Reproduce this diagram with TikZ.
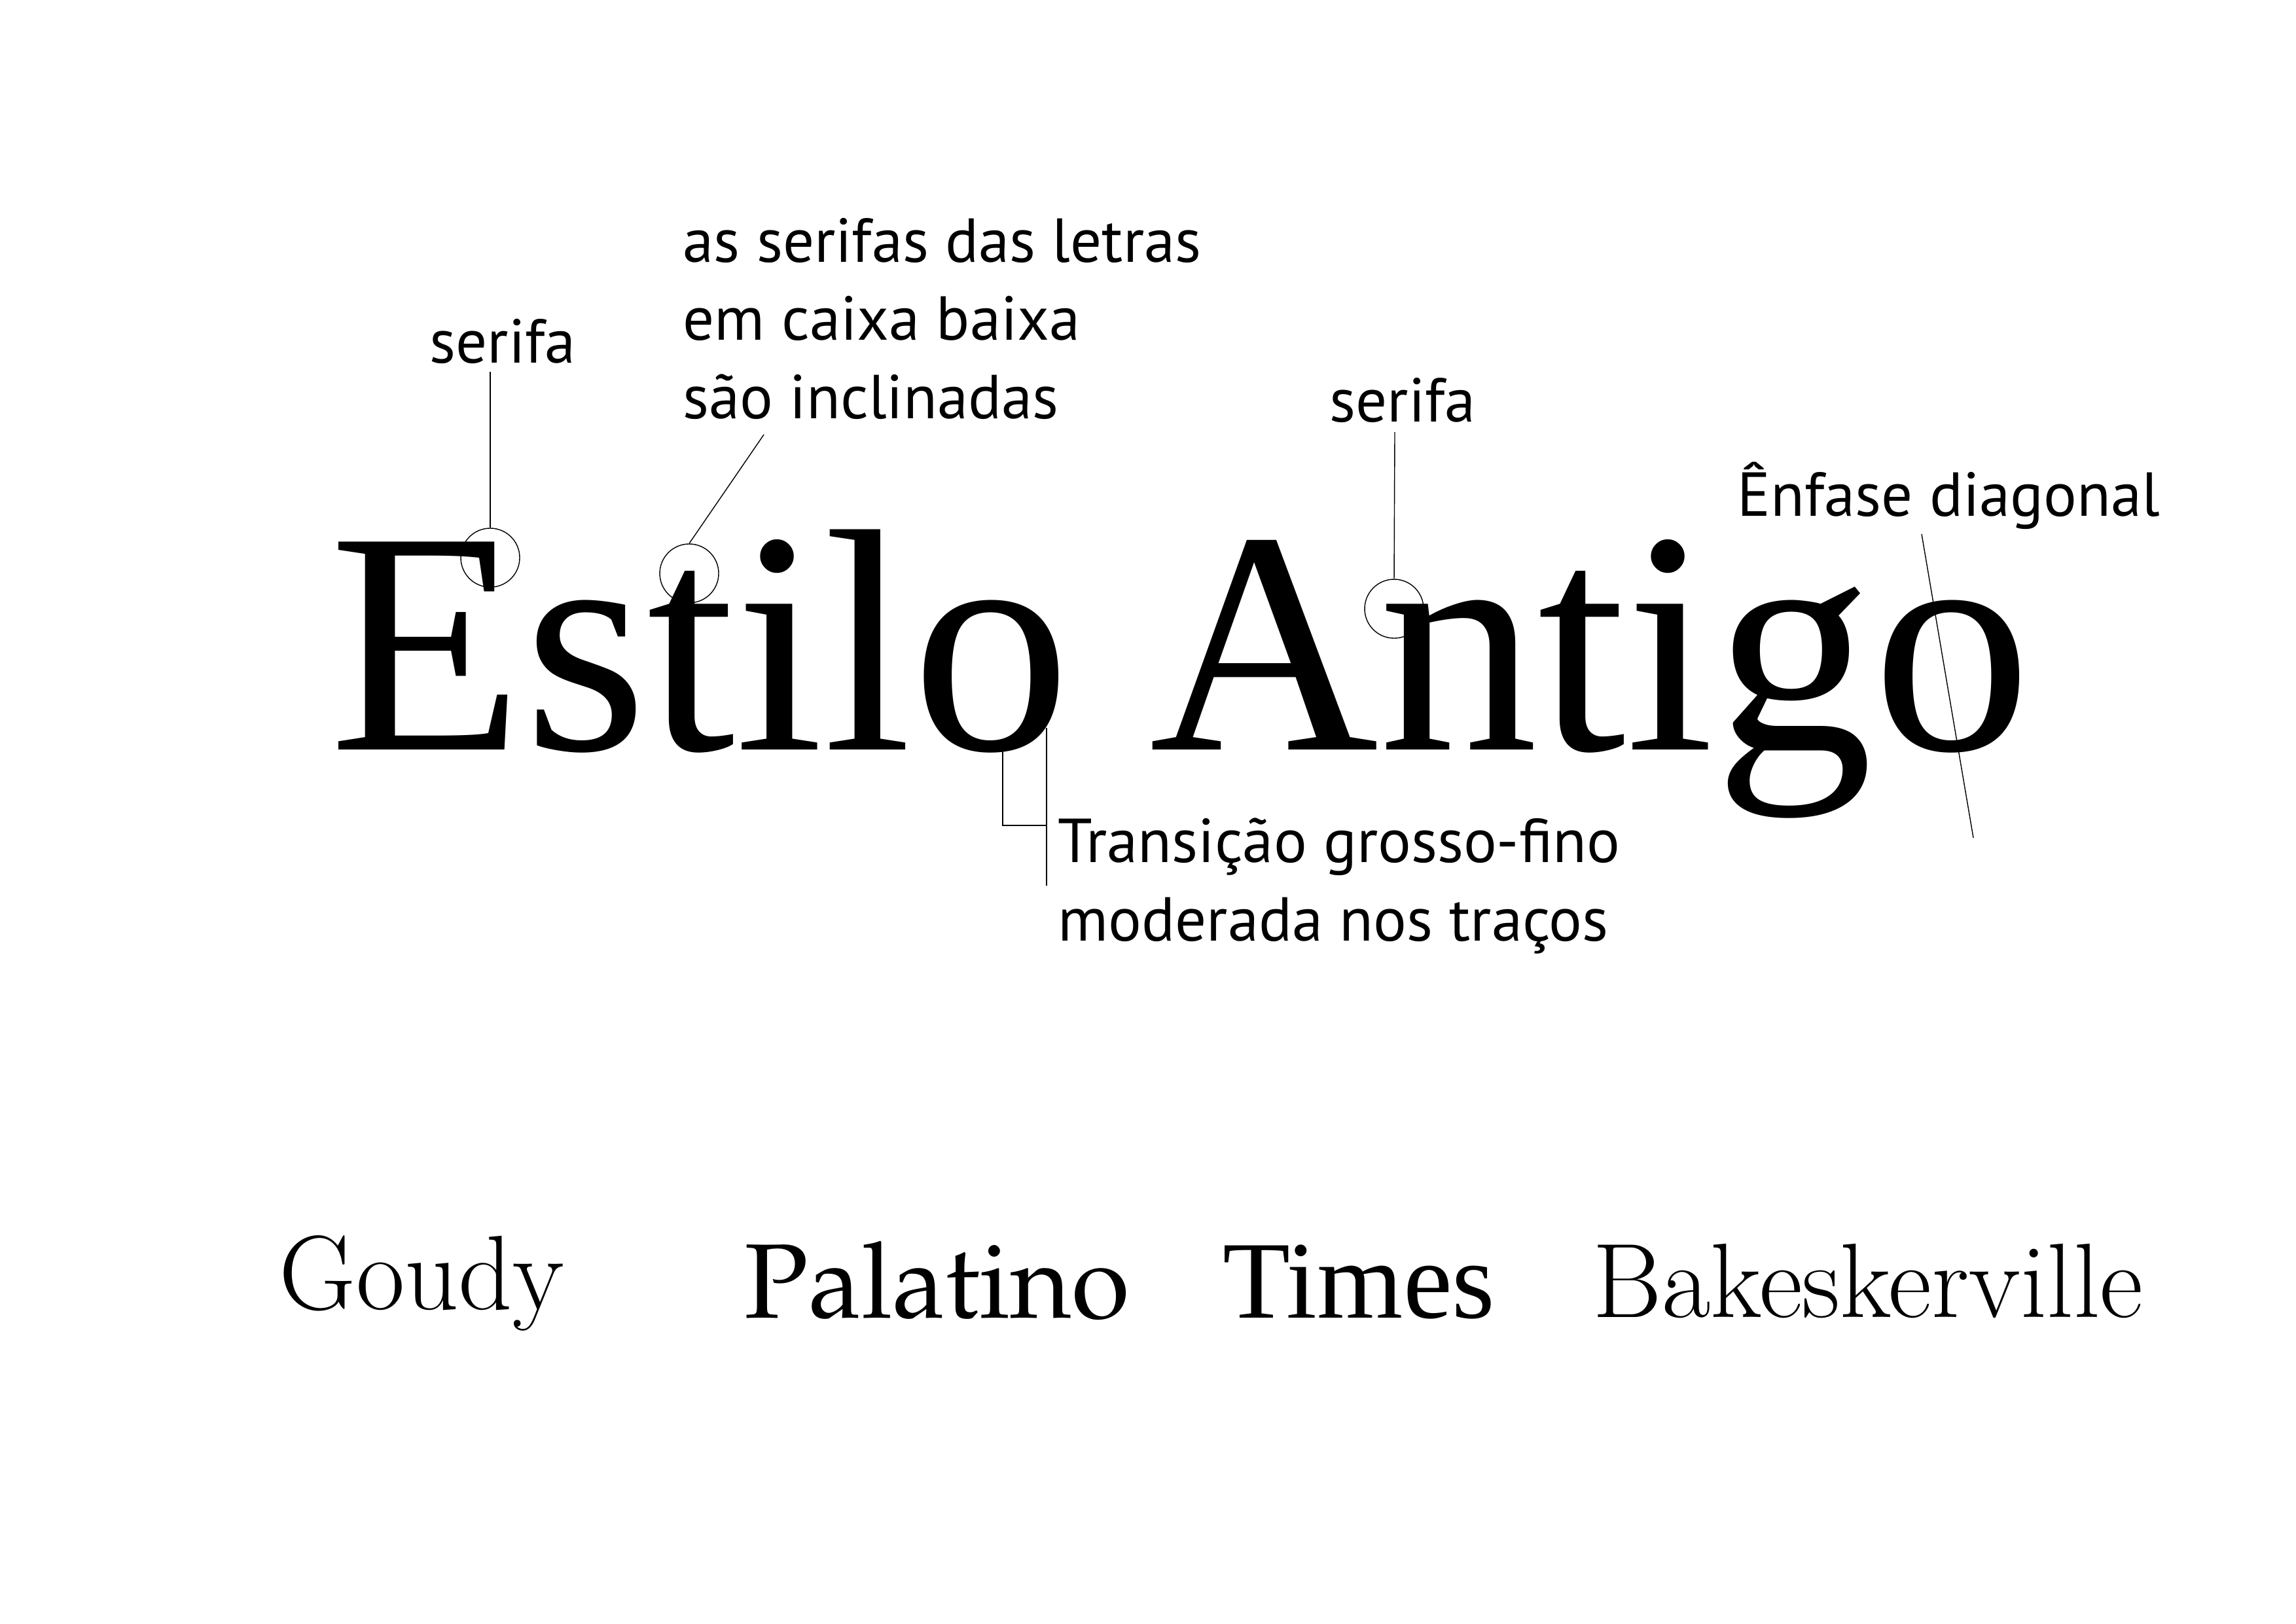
\documentclass[tikz,border=0pt]{standalone}
\usepackage[T1]{fontenc}
\usepackage{fontspec}
\setmainfont{Liberation Serif}
\newfontfamily\rotulofont{PT Sans}
\newfontfamily\timesfont{Liberation Serif}
\newcommand\palatinofont{\fontencoding{T1}\fontfamily{ppl}\selectfont}
\newfontfamily\goudyfont{Latin Modern Roman}
\newfontfamily\baskfont{Latin Modern Roman}
\tikzset{
  rotulo/.style={font=\rotulofont\fontsize{27}{34}\selectfont, align=left, anchor=base west, inner sep=0pt},
  amostra/.style={anchor=base west, inner sep=0pt},
  circulo/.style={draw, circle, minimum size=0.9cm, inner sep=0pt, line width=0.4pt},
  conector/.style={line width=0.4pt}
}
\begin{document}
\begin{tikzpicture}
\useasboundingbox (0,0) rectangle (35.08,-24.80);
\fill[white] (0,0) rectangle (35.08,-24.80);
% titulo
\node[amostra, font=\fontsize{138}{138}\selectfont] (titulo) at (5.03,-11.45) {Estilo Antigo};
% rotulos (base = ultima linha)
\node[rotulo] (serifa1) at (6.56,-5.54) {serifa};
\node[rotulo] (inclinadas) at (10.43,-6.39) {as serifas das letras\\em caixa baixa\\são inclinadas};
\node[rotulo] (serifa2) at (20.31,-6.44) {serifa};
\node[rotulo] (enfase) at (26.54,-7.88) {Ênfase diagonal};
\node[rotulo] (transicao) at (16.16,-14.37) {Transição grosso-fino\\moderada nos traços};
% circulos
\node[circulo] (c1) at (7.49,-8.52) {};
\node[circulo] (c2) at (10.53,-8.76) {};
\node[circulo] (c3) at (21.30,-9.30) {};
% conectores
\coordinate (p1) at (7.49,-5.68);
\coordinate (p2) at (11.67,-6.64);
\coordinate (p3) at (21.31,-6.60);
\draw[conector] (p1) -- (c1.north);
\draw[conector] (p2) -- (c2.north);
\draw[conector] (p3) -- (c3.north);
\coordinate (o1) at (15.32,-11.34);
\coordinate (o2) at (16.00,-12.61);
\draw[conector] (o1) |- (o2);
\coordinate (v1) at (15.99,-11.12);
\coordinate (v2) at (15.99,-13.53);
\draw[conector] (v1) -- (v2);
\coordinate (d1) at (29.36,-8.16);
\coordinate (d2) at (30.15,-12.80);
\draw[conector] (d1) -- (d2);
% amostras
\node[amostra, font=\goudyfont\fontsize{46}{46}\selectfont] (goudy) at (4.26,-20.00) {Goudy};
\node[amostra, font=\palatinofont\fontsize{46}{46}\selectfont] (palatino) at (11.37,-20.13) {Palatino};
\node[amostra, font=\timesfont\fontsize{48}{48}\selectfont] (times) at (18.68,-20.13) {Times};
\node[amostra, font=\baskfont\fontsize{46}{46}\selectfont] (bask) at (24.33,-20.12) {Bakeskerville};
\end{tikzpicture}
\end{document}
